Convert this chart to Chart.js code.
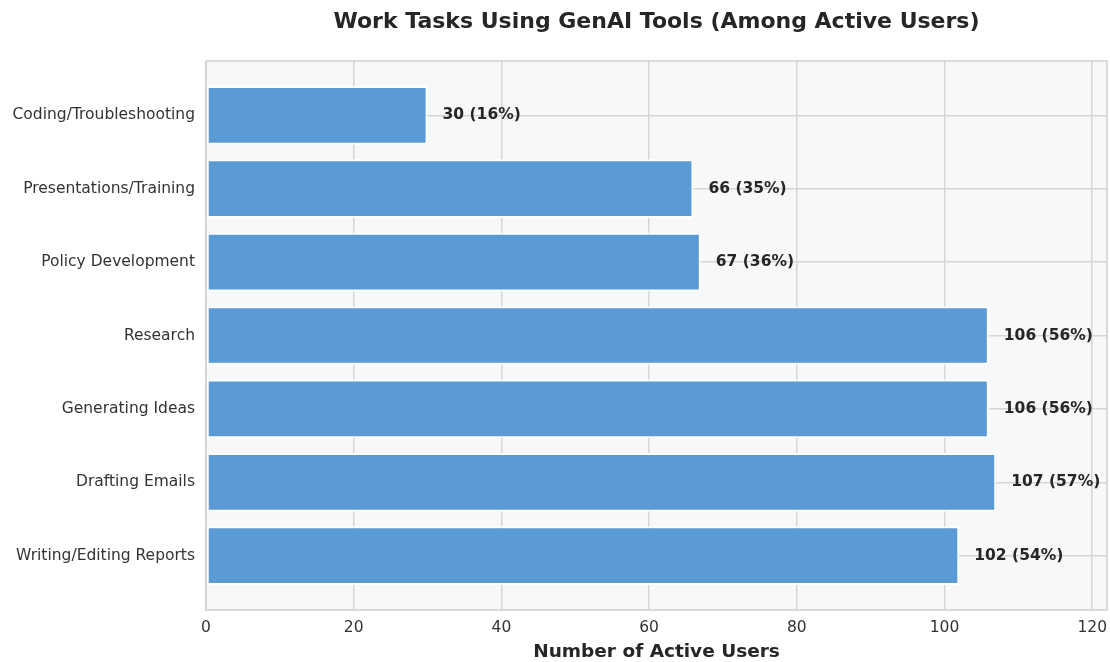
<!DOCTYPE html>
<html>
<head>
<meta charset="utf-8">
<title>Work Tasks Using GenAI Tools</title>
<script src="https://cdn.jsdelivr.net/npm/chart.js@4/dist/chart.umd.min.js"></script>
<style>
  html, body { margin: 0; padding: 0; background: #fff; }
  #wrap { width: 1110px; height: 662px; position: relative; }
</style>
</head>
<body>
<div id="wrap"><canvas id="chart"></canvas></div>
<script>
const categories = [
  "Coding/Troubleshooting",
  "Presentations/Training",
  "Policy Development",
  "Research",
  "Generating Ideas",
  "Drafting Emails",
  "Writing/Editing Reports"
];
const users = [30, 66, 67, 106, 106, 107, 102];
const percents = [16, 35, 36, 56, 56, 57, 54];
const xTicks = [0, 20, 40, 60, 80, 100, 120];

const FONT = "'DejaVu Sans', 'Liberation Sans', sans-serif";
const GRID = "#d6d6d6";

// plot background + frame, like the matplotlib axes
const frame = {
  id: "frame",
  beforeDraw(chart) {
    const { ctx, chartArea: a } = chart;
    ctx.save();
    ctx.fillStyle = "#f7f8fa";
    ctx.fillRect(a.left, a.top, a.right - a.left, a.bottom - a.top);
    ctx.restore();
  },
  afterDraw(chart) {
    const { ctx, chartArea: a } = chart;
    ctx.save();
    ctx.strokeStyle = "#cfcfcf";
    ctx.lineWidth = 1.5;
    ctx.strokeRect(a.left, a.top, a.right - a.left, a.bottom - a.top);
    ctx.restore();
  }
};

// "value (pct%)" after each bar
const barLabels = {
  id: "barLabels",
  afterDatasetsDraw(chart) {
    const { ctx } = chart;
    const meta = chart.getDatasetMeta(0);
    ctx.save();
    ctx.font = "bold 15.5px " + FONT;
    ctx.fillStyle = "#262626";
    ctx.textAlign = "left";
    ctx.textBaseline = "middle";
    meta.data.forEach((bar, i) => {
      ctx.fillText(`${users[i]} (${percents[i]}%)`, bar.x + 15, bar.y);
    });
    ctx.restore();
  }
};

new Chart(document.getElementById("chart"), {
  type: "bar",
  data: {
    datasets: [{
      data: users.map((v, i) => ({ x: v, y: i })),
      backgroundColor: "#5b9bd5",
      borderColor: "#ffffff",
      borderWidth: 2,
      borderSkipped: false,
      categoryPercentage: 0.8,
      barPercentage: 1.0
    }]
  },
  options: {
    indexAxis: "y",
    responsive: true,
    maintainAspectRatio: false,
    animation: false,
    layout: { padding: { left: 0, right: 3, top: 0, bottom: 0 } },
    plugins: {
      legend: { display: false },
      tooltip: { enabled: false },
      title: {
        display: true,
        text: "Work Tasks Using GenAI Tools (Among Active Users)",
        fullSize: false,
        color: "#262626",
        font: { family: FONT, size: 22, weight: "bold" },
        padding: { top: 9, bottom: 25.6 }
      }
    },
    scales: {
      x: {
        type: "linear",
        min: 0,
        max: 122,
        afterBuildTicks: (s) => { s.ticks = xTicks.map(v => ({ value: v })); },
        afterFit: (s) => { s.height = 52; s.paddingLeft = 0; s.paddingRight = 0; },
        grid: { color: GRID, lineWidth: 1.5, drawTicks: false },
        border: { display: false },
        ticks: {
          padding: 9,
          color: "#333333",
          font: { family: FONT, size: 15.5 }
        },
        title: {
          display: true,
          text: "Number of Active Users",
          color: "#262626",
          font: { family: FONT, size: 18.5, weight: "bold" },
          padding: { top: 2, bottom: -1 }
        }
      },
      y: {
        type: "linear",
        reverse: true,
        offset: false,
        min: -0.74,
        max: 6.74,
        afterBuildTicks: (s) => { s.ticks = categories.map((c, i) => ({ value: i })); },
        afterFit: (s) => { s.width = 206; s.paddingTop = 0; s.paddingBottom = 0; },
        grid: { color: GRID, lineWidth: 1.5, drawTicks: false, offset: false },
        border: { display: false },
        ticks: {
          padding: 11,
          color: "#333333",
          font: { family: FONT, size: 15.5 },
          callback: (v) => categories[v]
        }
      }
    }
  },
  plugins: [frame, barLabels]
});
</script>
</body>
</html>
